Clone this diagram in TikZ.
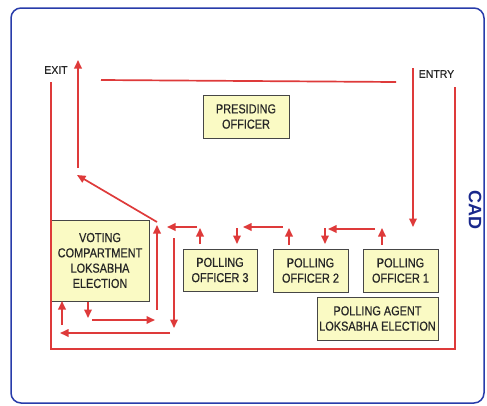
\documentclass[tikz,border=0pt]{standalone}
\usepackage{fontspec}
\setmainfont{Liberation Sans}
\newfontfamily\boxfont[FakeStretch=0.84,FakeBold=0.5]{Liberation Sans}
\newfontfamily\lblfont[FakeStretch=0.95,FakeBold=0.3]{Liberation Sans}
\usetikzlibrary{arrows.meta}
\definecolor{redline}{RGB}{222,58,58}
\definecolor{boxfill}{RGB}{250,250,196}
\definecolor{boxline}{RGB}{70,70,70}
\definecolor{cadblue}{RGB}{25,40,140}
\definecolor{frameblue}{RGB}{40,60,170}
\begin{document}
\begin{tikzpicture}[x=1pt,y=-1pt,
  box/.style={draw=boxline, fill=boxfill, line width=0.8pt, align=center, font=\boxfont\fontsize{13}{15.3}\selectfont, text=black!85, inner sep=0pt},
  rl/.style={draw=redline, line width=1.7pt},
  ra/.style={rl, -{Triangle[length=8.5pt,width=7.5pt]}},
  lbl/.style={font=\lblfont\fontsize{11}{12}\selectfont, inner sep=0pt, text=black!85}]
\useasboundingbox (0,0) rectangle (487,405);
\draw[frameblue, line width=1.5pt, rounded corners=10pt] (11,8) rectangle (484,403);

% boxes
\node[box, minimum width=86pt, minimum height=43pt] (pres) at (246,116.5) {PRESIDING\\OFFICER};
\node[box, minimum width=98pt, minimum height=81pt] (vote) at (100,260.5) {VOTING\\COMPARTMENT\\LOKSABHA\\ELECTION};
\node[box, minimum width=74pt, minimum height=42pt] (po3) at (220,270) {POLLING\\OFFICER 3};
\node[box, minimum width=75pt, minimum height=43pt] (po2) at (310.5,270.5) {POLLING\\OFFICER 2};
\node[box, minimum width=75pt, minimum height=43pt] (po1) at (400.5,270.5) {POLLING\\OFFICER 1};
\node[box, minimum width=121pt, minimum height=43pt] (agent) at (377.5,318.5) {POLLING AGENT\\LOKSABHA ELECTION};

% labels
\node[lbl] (exit) at (56,70) {EXIT};
\node[lbl] (entry) at (436.5,74) {ENTRY};
\node[rotate=-90, font=\bfseries\fontsize{18}{18}\selectfont, text=cadblue, inner sep=0pt] (cad) at (475,210) {CAD};

% coordinates
\coordinate (f1) at (51,82);
\coordinate (f2) at (51,349);
\coordinate (f3) at (455,349);
\coordinate (f4) at (455,87);
\coordinate (t1) at (101,80);
\coordinate (t2) at (396,82);
\coordinate (e1) at (413,68);
\coordinate (e2) at (413,227);
\coordinate (x1) at (78,168);
\coordinate (x2) at (78,60);
\coordinate (d1) at (157,222);
\coordinate (d2) at (77,175);
\coordinate (a1) at (382,245); \coordinate (a2) at (382,228);
\coordinate (b1) at (375,229); \coordinate (b2) at (328,229);
\coordinate (c1) at (325,228); \coordinate (c2) at (325,244);
\coordinate (g1) at (289,245); \coordinate (g2) at (289,228);
\coordinate (h1) at (283,227); \coordinate (h2) at (243,227);
\coordinate (i1) at (237,228); \coordinate (i2) at (237,244);
\coordinate (j1) at (200,244); \coordinate (j2) at (200,228);
\coordinate (k1) at (197,227); \coordinate (k2) at (167,227);
\coordinate (l1) at (157,310); \coordinate (l2) at (157,225);
\coordinate (m1) at (174,238); \coordinate (m2) at (174,328);
\coordinate (n1) at (170,333); \coordinate (n2) at (60,333);
\coordinate (o1) at (62,325); \coordinate (o2) at (62,301);
\coordinate (p1) at (88,302); \coordinate (p2) at (88,318);
\coordinate (q1) at (92,320); \coordinate (q2) at (155,320);

% red lines
\draw[rl] (f1) -- (f2) -- (f3) -- (f4);
\draw[rl] (t1) -- (t2);
\draw[ra] (e1) -- (e2);
\draw[ra] (x1) -- (x2);
\draw[ra] (d1) -- (d2);
\draw[ra] (a1) -- (a2);
\draw[ra] (b1) -- (b2);
\draw[ra] (c1) -- (c2);
\draw[ra] (g1) -- (g2);
\draw[ra] (h1) -- (h2);
\draw[ra] (i1) -- (i2);
\draw[ra] (j1) -- (j2);
\draw[ra] (k1) -- (k2);
\draw[ra] (l1) -- (l2);
\draw[ra] (m1) -- (m2);
\draw[ra] (n1) -- (n2);
\draw[ra] (o1) -- (o2);
\draw[ra] (p1) -- (p2);
\draw[ra] (q1) -- (q2);
\end{tikzpicture}
\end{document}
